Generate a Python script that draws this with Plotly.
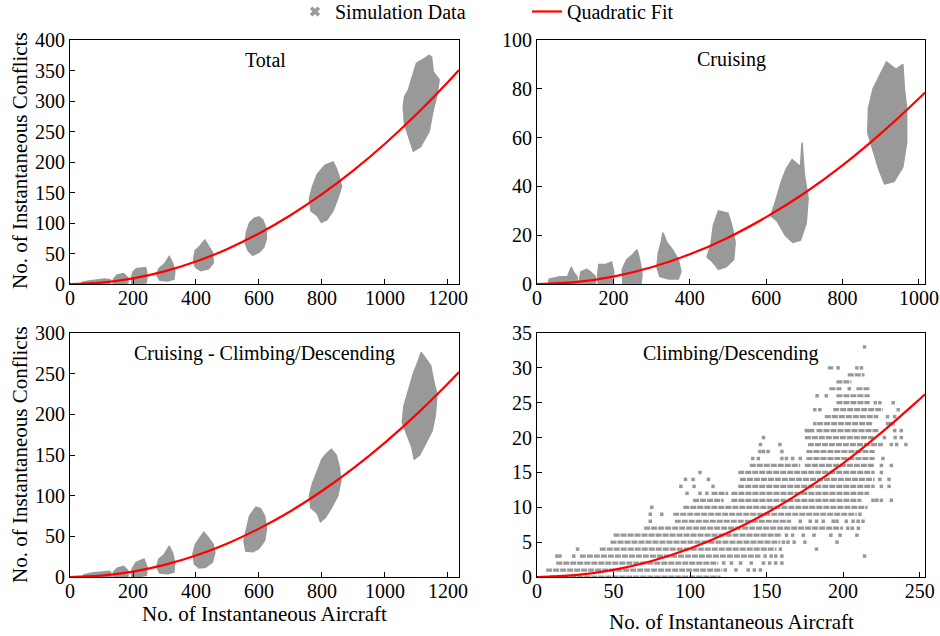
import plotly.graph_objects as go

GRAY = "#999999"
RED = "#ff0000"
FONT = "Liberation Serif"

# ---------------- data ----------------
# Panel: Total  (outline vertices of each simulation-data cloud)
total_blobs = [
    [(32, 0), (40, 3), (60, 5), (90, 7), (110, 8), (127, 7), (127, 0)],
    [(137, 0), (138, 8), (150, 15), (170, 17), (184, 10), (184, 2), (165, 0)],
    [(196, 0), (196, 12), (200, 20), (210, 25), (240, 27), (245, 15), (242, 2), (215, 0)],
    [(275, 15), (282, 25), (300, 33), (315, 45), (325, 35), (333, 22), (330, 8), (310, 5), (285, 6)],
    [(392, 40), (398, 55), (412, 62), (428, 72), (440, 62), (452, 52), (455, 35), (440, 25), (415, 22), (398, 28)],
    [(556, 68), (560, 85), (570, 100), (585, 108), (600, 110), (612, 105), (622, 92), (624, 75),
     (615, 60), (600, 52), (580, 47), (565, 55)],
    [(760, 140), (770, 160), (785, 180), (810, 195), (835, 200), (845, 190), (855, 175), (862, 160),
     (850, 140), (835, 120), (815, 105), (798, 101), (785, 112), (765, 120)],
    [(1141, 375), (1148, 372), (1153, 348), (1172, 335), (1165, 310), (1153, 285), (1140, 250),
     (1113, 225), (1090, 218), (1075, 240), (1062, 262), (1058, 290), (1062, 307), (1074, 318),
     (1090, 345), (1100, 362), (1120, 368)],
]
fit_total_x = [0, 100, 200, 300, 400, 500, 600, 700, 800, 900, 1000, 1100, 1200, 1235]
fit_total_y = [0, 2.3, 9.2, 20.7, 36.8, 57.5, 82.8, 112.7, 147.2, 186.3, 230, 278.3, 331.2, 350.8]

# Panel: Cruising
cruise_blobs = [
    [(30, 0), (32, 2), (60, 3), (80, 3), (85, 5), (90, 7), (95, 5), (105, 3), (105, 0)],
    [(109, 0), (115, 5), (130, 6), (140, 5), (153, 3), (153, 0)],
    [(159, 4), (162, 8), (180, 8), (195, 9), (201, 5), (200, 0), (160, 0)],
    [(223, 6), (235, 10), (250, 12), (262, 14), (270, 9), (275, 4), (272, 0), (225, 0)],
    [(314, 7), (318, 13), (325, 17), (330, 21), (340, 17), (355, 14), (370, 10), (377, 5),
     (370, 2), (345, 2), (322, 3)],
    [(445, 11), (455, 16), (462, 24), (475, 30), (500, 29), (510, 24), (519, 17), (515, 10),
     (495, 7), (475, 6), (460, 9)],
    [(612, 28), (625, 34), (640, 42), (652, 47), (668, 51), (690, 48), (694, 58), (700, 45),
     (710, 35), (705, 25), (690, 18), (670, 17), (650, 20), (628, 26)],
    [(866, 62), (868, 72), (880, 80), (898, 86), (915, 91), (940, 88), (958, 90), (962, 80),
     (968, 72), (968, 58), (958, 48), (935, 42), (910, 41), (895, 47), (880, 55)],
]
fit_cruise_x = [0, 100, 200, 300, 400, 500, 600, 700, 800, 900, 1000, 1016]
fit_cruise_y = [0, 0.76, 3.04, 6.84, 12.16, 19.0, 27.4, 37.2, 48.6, 61.6, 76.0, 78.5]

# Panel: Cruising - Climbing/Descending
ccd_blobs = [
    [(40, 0), (45, 3), (70, 5), (100, 6), (125, 7), (130, 5), (130, 0)],
    [(137, 0), (138, 6), (150, 11), (170, 13), (184, 8), (184, 1), (165, 0)],
    [(196, 0), (197, 10), (210, 18), (235, 22), (245, 12), (242, 2), (215, 0)],
    [(275, 12), (282, 22), (300, 28), (315, 38), (325, 30), (332, 18), (330, 6), (310, 4), (285, 5)],
    [(390, 28), (398, 40), (412, 48), (425, 55), (440, 48), (455, 40), (460, 30), (452, 18),
     (430, 12), (410, 11), (395, 16)],
    [(552, 45), (560, 60), (570, 75), (590, 86), (605, 84), (618, 75), (624, 60), (618, 45),
     (600, 35), (580, 31), (558, 32)],
    [(760, 100), (770, 115), (785, 130), (800, 145), (815, 152), (830, 157), (845, 150), (855, 135),
     (860, 118), (850, 100), (830, 85), (810, 73), (795, 68), (785, 78), (765, 85)],
    [(1055, 190), (1060, 210), (1075, 230), (1090, 250), (1105, 265), (1115, 276), (1130, 268),
     (1145, 260), (1155, 240), (1165, 225), (1160, 200), (1150, 180), (1130, 165), (1110, 150),
     (1093, 145), (1085, 160), (1070, 175)],
]
fit_ccd_x = [0, 100, 200, 300, 400, 500, 600, 700, 800, 900, 1000, 1100, 1200, 1235]
fit_ccd_y = [0, 1.65, 6.6, 14.9, 26.4, 41.3, 59.5, 80.9, 105.7, 133.8, 165.2, 199.9, 237.9, 252]

# Panel: Climbing/Descending (integer conflict counts -> rows of points)
cd_row_y = [0, 1, 2, 3, 4, 5, 6, 7, 8, 9, 10, 11, 11, 12, 12, 13, 14, 15, 16, 16, 17, 18, 19,
            20, 21, 22, 23, 24, 25, 26, 27, 27, 28, 29, 30]
cd_row_x0 = [8, 6, 12.6, 28, 41, 48, 50, 70, 90, 89, 95.6, 102, 127, 114, 127, 131.5, 132.6, 131.5,
             139, 175, 176, 176, 177, 175, 182.6, 183, 188, 193.5, 195.6, 195.6, 191, 208.7, 195.6,
             203, 190]
cd_row_x1 = [120, 121, 118.5, 146, 156.5, 159, 160, 200, 166, 209, 216, 122, 212, 125, 217, 220.6,
             220.6, 220.6, 172, 220.6, 220.6, 220.6, 226, 220.6, 223, 219.6, 223, 226, 217.4, 217.4,
             199, 217.4, 205.4, 214, 193.5]
cd_dot_x = [123, 130, 138, 142, 146,
            122, 127, 133, 140, 148, 152, 156, 160,
            13, 15, 24, 149, 153, 156, 160, 214,
            26.5, 159, 182.6,
            161, 164, 168, 175, 196,
            163, 167, 174, 181, 192, 198, 209,
            203, 206, 210,
            74, 172, 178.5, 182.6, 187, 193.5, 196, 202, 206.5, 209.8, 213,
            74, 81.5, 211,
            75,
            219.5, 222, 225, 231.5,
            98, 106.5, 111,
            94, 102.6, 115, 225, 230,
            97, 102, 112, 224, 230,
            106.5, 225,
            225, 231.5,
            141, 144.6, 160, 163, 167, 172, 226,
            145.6, 148, 151, 160,
            146, 158.7, 231.5, 235, 241,
            148, 227, 234, 238,
            176, 178, 180, 233.7, 238,
            181.5, 229, 231, 232.6,
            229, 233.7,
            181.5, 184.8, 236,
            221, 224, 232.7,
            183, 189,
            204,
            196.7, 209, 212,
            214]
cd_dot_y = [1, 1, 1, 1, 1,
            2, 2, 2, 2, 2, 2, 2, 2,
            3, 3, 3, 3, 3, 3, 3, 3,
            4, 4, 4,
            5, 5, 5, 5, 5,
            6, 6, 6, 6, 6, 6, 6,
            7, 7, 7,
            8, 8, 8, 8, 8, 8, 8, 8, 8, 8, 8,
            9, 9, 9,
            10,
            11, 11, 11, 11,
            12, 12, 12,
            13, 13, 13, 13, 13,
            14, 14, 14, 14, 14,
            15, 15,
            16, 16,
            17, 17, 17, 17, 17, 17, 17,
            18, 18, 18, 18,
            19, 19, 19, 19, 19,
            20, 20, 20, 20,
            21, 21, 21, 21, 21,
            22, 22, 22, 22,
            23, 23,
            24, 24, 24,
            25, 25, 25,
            26, 26,
            27,
            30, 30, 30,
            33]
fit_cd_x = [0, 25, 50, 75, 100, 125, 150, 175, 200, 225, 250, 253.5]
fit_cd_y = [0, 0.26, 1.02, 2.3, 4.08, 6.38, 9.18, 12.5, 16.3, 20.7, 25.5, 26.2]

# ---------------- figure ----------------
W, H = 940, 636
ML, MR, MT, MB = 70, 15, 40, 59
PW, PH = W - ML - MR, H - MT - MB


def px(xp):
    return (xp - ML) / PW


def py(yp):
    return (H - MB - yp) / PH


fig = go.Figure()


def add_blobs(blobs, xa, ya):
    xs, ys = [], []
    for b in blobs:
        xs += [p[0] for p in b] + [b[0][0], None]
        ys += [p[1] for p in b] + [b[0][1], None]
    fig.add_trace(go.Scatter(x=xs, y=ys, mode="lines", fill="toself", fillcolor=GRAY,
                             line=dict(color=GRAY, width=1.5), xaxis=xa, yaxis=ya,
                             showlegend=False, hoverinfo="skip"))


def add_fit(xv, yv, xa, ya, show):
    fig.add_trace(go.Scatter(x=xv, y=yv, mode="lines", line=dict(color=RED, width=2.2, shape="spline"),
                             xaxis=xa, yaxis=ya, name="Quadratic Fit", showlegend=show))


# legend-only marker entry
fig.add_trace(go.Scatter(x=[None], y=[None], mode="markers", name="Simulation Data",
                         marker=dict(symbol="x", size=9, color=GRAY), xaxis="x", yaxis="y"))

add_blobs(total_blobs, "x", "y")
add_blobs(cruise_blobs, "x2", "y2")
add_blobs(ccd_blobs, "x3", "y3")

# climbing / descending rows
sx, sy = [], []
for y0, a, b in zip(cd_row_y, cd_row_x0, cd_row_x1):
    sx += [a, b, None]
    sy += [y0, y0, None]
fig.add_trace(go.Scatter(x=sx, y=sy, mode="lines", line=dict(color=GRAY, width=3.2, dash="6px,1px"),
                         xaxis="x4", yaxis="y4", showlegend=False, hoverinfo="skip"))
fig.add_trace(go.Scatter(x=cd_dot_x, y=cd_dot_y, mode="markers",
                         marker=dict(symbol="square", size=3.5, color=GRAY, line=dict(width=0)),
                         xaxis="x4", yaxis="y4", showlegend=False, hoverinfo="skip"))

add_fit(fit_total_x, fit_total_y, "x", "y", True)
add_fit(fit_cruise_x, fit_cruise_y, "x2", "y2", False)
add_fit(fit_ccd_x, fit_ccd_y, "x3", "y3", False)
add_fit(fit_cd_x, fit_cd_y, "x4", "y4", False)

left_dom = [0, px(459)]
right_dom = [px(537), 1]
top_dom = [py(284), 1]
bot_dom = [0, py(333)]

axis_common = dict(showline=True, linecolor="black", linewidth=1, mirror=True, ticks="inside",
                   ticklen=5, tickcolor="black", showgrid=False, zeroline=False, automargin=False,
                   tickfont=dict(family=FONT, size=20, color="black"))
xextra = dict(ticklabelstandoff=-4)

fig.update_layout(
    template="none",
    width=W, height=H, margin=dict(l=ML, r=MR, t=MT, b=MB, autoexpand=False),
    paper_bgcolor="white", plot_bgcolor="white",
    font=dict(family=FONT, size=20, color="black"),
    xaxis=dict(domain=left_dom, range=[0, 1235], tickvals=[0, 200, 400, 600, 800, 1000, 1200], anchor="y", **axis_common, **xextra),
    yaxis=dict(domain=top_dom, range=[0, 400], dtick=50, anchor="x", **axis_common),
    xaxis2=dict(domain=right_dom, range=[0, 1016], tickvals=[0, 200, 400, 600, 800, 1000], anchor="y2", **axis_common, **xextra),
    yaxis2=dict(domain=top_dom, range=[0, 100], dtick=20, anchor="x2", **axis_common),
    xaxis3=dict(domain=left_dom, range=[0, 1235], tickvals=[0, 200, 400, 600, 800, 1000, 1200], anchor="y3", **axis_common, **xextra),
    yaxis3=dict(domain=bot_dom, range=[0, 300], dtick=50, anchor="x3", **axis_common),
    xaxis4=dict(domain=right_dom, range=[0, 253.5], dtick=50, anchor="y4", **axis_common, **xextra),
    yaxis4=dict(domain=bot_dom, range=[0, 35], dtick=5, anchor="x4", **axis_common),
    legend=dict(orientation="h", x=px(295), xanchor="left", y=py(-8), yanchor="top",
                font=dict(family=FONT, size=20), entrywidth=187, bgcolor="rgba(0,0,0,0)"),
    showlegend=True,
)

ann = []
for text, xp, yp in [("Total", 265, 60), ("Cruising", 731, 60),
                     ("Cruising - Climbing/Descending", 264, 353), ("Climbing/Descending", 731, 353)]:
    ann.append(dict(text=text, x=px(xp), y=py(yp), xref="paper", yref="paper", showarrow=False,
                    xanchor="center", yanchor="middle", font=dict(family=FONT, size=20)))
for xp, yp in [(264, 614), (731, 622)]:
    ann.append(dict(text="No. of Instantaneous Aircraft", x=px(xp), y=py(yp), xref="paper", yref="paper",
                    showarrow=False, xanchor="center", yanchor="middle", font=dict(family=FONT, size=21)))
for yp in [161, 455]:
    ann.append(dict(text="No. of Instantaneous Conflicts", x=px(20), y=py(yp), xref="paper", yref="paper",
                    showarrow=False, textangle=-90, xanchor="center", yanchor="middle",
                    font=dict(family=FONT, size=21)))
fig.update_layout(annotations=ann)

fig.write_html("out.html", config={"displayModeBar": False},
               post_script="document.body.style.margin='0';document.body.style.overflow='hidden';")
